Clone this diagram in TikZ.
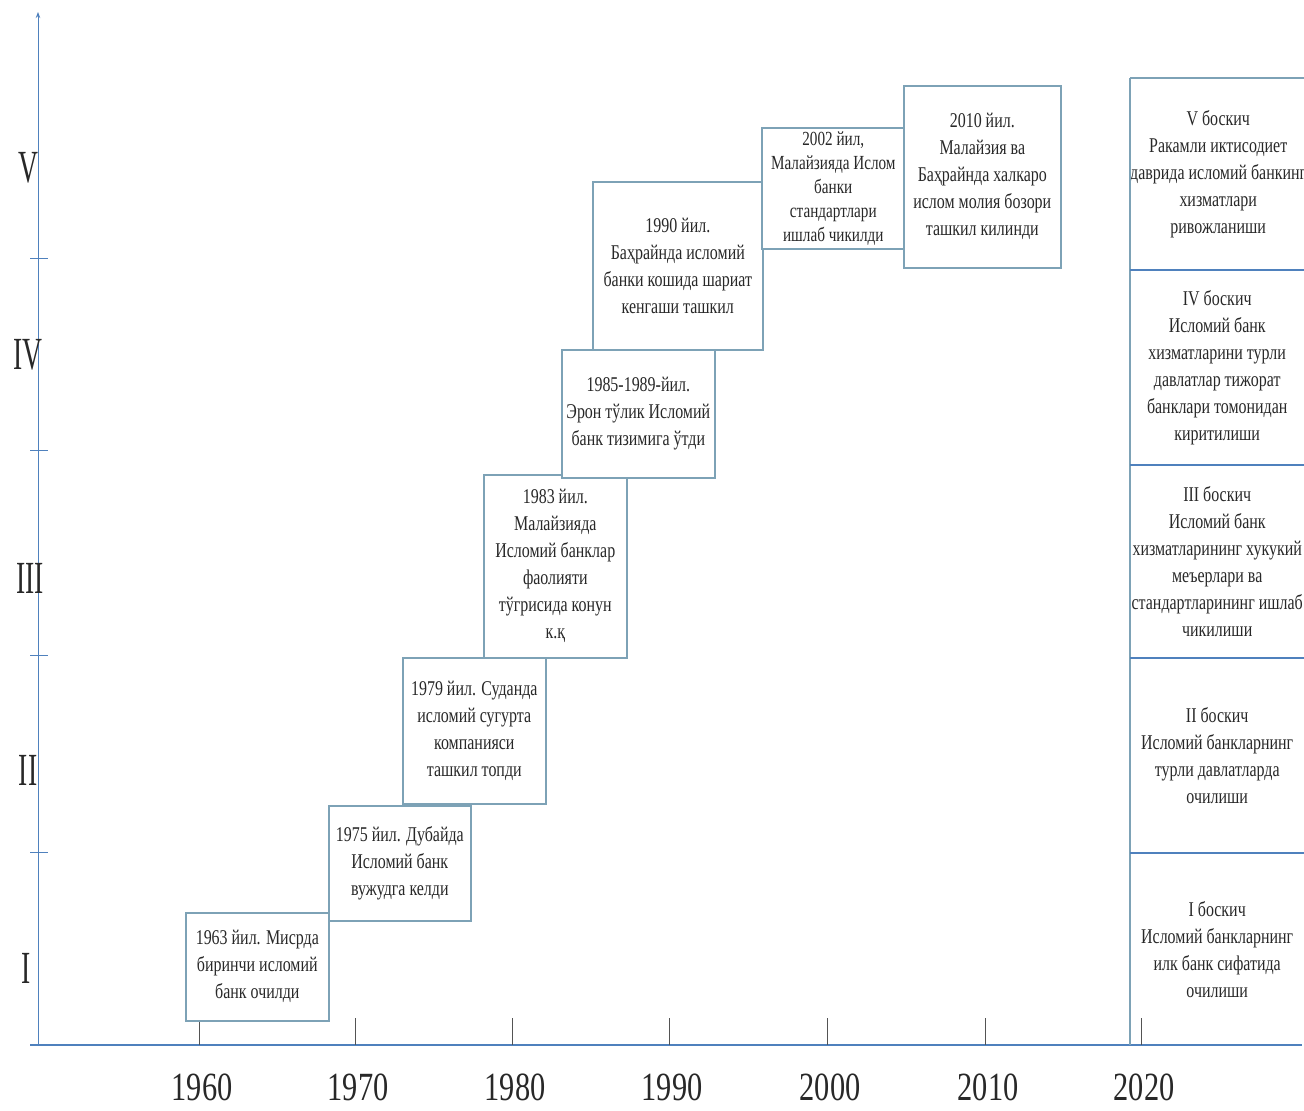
\documentclass[tikz,border=0pt]{standalone}
\usepackage{fontspec}
\setmainfont{Liberation Serif}[FakeStretch=0.76]
\newfontfamily\romfont{Liberation Serif}[FakeStretch=0.6]
\usetikzlibrary{arrows.meta}
\definecolor{axcol}{RGB}{79,129,189}
\definecolor{bxcol}{RGB}{125,162,182}
\definecolor{txcol}{RGB}{40,40,40}
\begin{document}
\begin{tikzpicture}[x=1pt,y=-1pt,
  evt/.style={draw=bxcol, line width=1.6pt, fill=white, align=center, text=txcol,
    font=\fontsize{21}{27}\selectfont, inner sep=0pt, anchor=north west},
  stage/.style={align=center, text=txcol, font=\fontsize{21}{27}\selectfont,
    inner sep=0pt, anchor=north west, minimum width=174pt},
  yearlab/.style={font=\fontsize{40}{40}\selectfont, text=txcol},
  romlab/.style={font=\romfont\fontsize{46}{46}\selectfont, text=txcol},
  axis/.style={draw=axcol, line width=1.4pt},
  tick/.style={draw=txcol!80, line width=0.9pt}]
\fill[white] (0,0) rectangle (1304,1111);
\useasboundingbox (0,0) rectangle (1304,1111);

% axes
\coordinate (o) at (38,1045);
\coordinate (ytop) at (38,12);
\coordinate (xend) at (1302,1045);
\coordinate (xstart) at (30,1045);
\draw[axis, line width=1pt, -{Stealth[length=6pt]}] (o) -- (ytop);
\draw[axis, line width=2pt] (xstart) -- (xend);

% y ticks
\foreach \yy in {258,450,655,852} {
  \draw[tick, draw=axcol] (30,\yy) -- (48,\yy);
}
% roman numerals
\node[romlab] (r5) at (28,168) {V};
\node[romlab] (r4) at (28,355) {IV};
\node[romlab] (r3) at (30,578) {III};
\node[romlab] (r2) at (28,770) {II};
\node[romlab] (r1) at (26,968) {I};

% x ticks and year labels
\foreach \xx/\yr in {199/1960,355/1970,512/1980,669/1990,827/2000,985/2010,1141/2020} {
  \draw[tick] (\xx,1018) -- (\xx,1045);
  \node[yearlab] (y\yr) at (\xx+3,1087) {\yr};
}

% event boxes
\node[evt, minimum width=143pt, minimum height=108pt] (b63) at (185,912)
  {1963 йил. Мисрда\\биринчи исломий\\банк очилди};
\node[evt, minimum width=142pt, minimum height=115pt] (b75) at (328,805)
  {1975 йил. Дубайда\\Исломий банк\\вужудга келди};
\node[evt, minimum width=143pt, minimum height=146pt] (b79) at (402,657)
  {1979 йил. Суданда\\исломий сугурта\\компанияси\\ташкил топди};
\node[evt, minimum width=143pt, minimum height=183pt] (b83) at (483,474)
  {1983 йил.\\Малайзияда\\Исломий банклар\\фаолияти\\тўгрисида конун\\к.қ};
\node[evt, minimum width=153pt, minimum height=128pt] (b85) at (561,349)
  {1985-1989-йил.\\Эрон тўлик Исломий\\банк тизимига ўтди};
\node[evt, minimum width=170pt, minimum height=168pt] (b90) at (592,181)
  {1990 йил.\\Баҳрайнда исломий\\банки кошида шариат\\кенгаши ташкил};
\node[evt, minimum width=143pt, minimum height=121pt,
  font=\fontsize{20}{24}\selectfont] (b02) at (761,127)
  {2002 йил,\\Малайзияда Ислом\\банки\\стандартлари\\ишлаб чикилди};
\node[evt, minimum width=157pt, minimum height=182pt] (b10) at (903,85)
  {2010 йил.\\Малайзия ва\\Баҳрайнда халкаро\\ислом молия бозори\\ташкил килинди};

% stage column
\node[stage, minimum height=192pt] (s5) at (1130,78)
  {V боскич\\Ракамли иктисодиет\\даврида исломий банкинг\\хизматлари\\ривожланиши};
\node[stage, minimum height=195pt] (s4) at (1130,270)
  {IV боскич\\Исломий банк\\хизматларини турли\\давлатлар тижорат\\банклари томонидан\\киритилиши};
\node[stage, minimum height=193pt] (s3) at (1130,465)
  {III боскич\\Исломий банк\\хизматларининг хукукий\\меъерлари ва\\стандартларининг ишлаб\\чикилиши};
\node[stage, minimum height=195pt] (s2) at (1130,658)
  {II боскич\\Исломий банкларнинг\\турли давлатларда\\очилиши};
\node[stage, minimum height=192pt] (s1) at (1130,853)
  {I боскич\\Исломий банкларнинг\\илк банк сифатида\\очилиши};

\draw[draw=bxcol, line width=1.6pt] (s5.north west) -- (s5.north east);
\draw[draw=bxcol, line width=1.6pt] (s5.north west) -- (s1.south west);
\foreach \n in {s4,s3,s2,s1} {
  \draw[axcol, line width=2.6pt] (\n.north west) -- (\n.north east);
}
\end{tikzpicture}
\end{document}
